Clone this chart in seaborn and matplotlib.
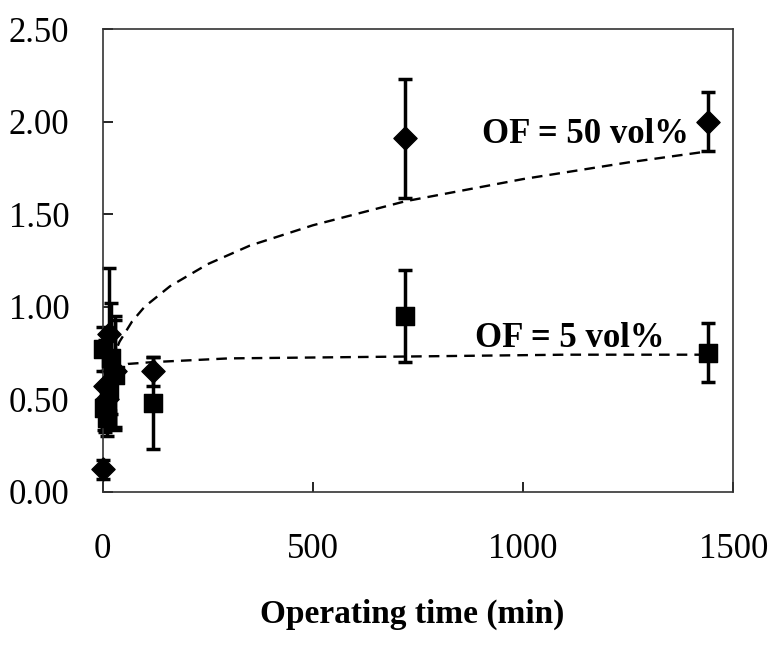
import numpy as np
import pandas as pd
import seaborn as sns
import matplotlib
matplotlib.use('Agg')
import matplotlib.pyplot as plt

sns.set_style('ticks')
plt.rcParams['font.family'] = ['Liberation Serif', 'DejaVu Serif']
plt.rcParams['text.color'] = 'black'
plt.rcParams['axes.labelcolor'] = 'black'

# OF = 50 vol% (diamonds)
t50 = [0, 5, 10, 15, 30, 120, 720, 1440]
y50 = [0.12, 0.57, 0.50, 0.85, 0.65, 0.65, 1.91, 2.00]
e50 = [0.05, 0.25, 0.15, 0.36, 0.30, 0.08, 0.32, 0.16]

# OF = 5 vol% (squares)
t5 = [0, 2, 10, 15, 20, 30, 120, 720, 1440]
y5 = [0.77, 0.45, 0.40, 0.55, 0.72, 0.63, 0.48, 0.95, 0.75]
e5 = [0.12, 0.12, 0.10, 0.20, 0.30, 0.30, 0.25, 0.25, 0.16]

# dashed trend lines
trend50_t = [20, 40, 70, 100, 160, 250, 350, 500, 720, 1000, 1250, 1440]
trend50_y = [0.70, 0.81, 0.92, 1.00, 1.11, 1.23, 1.33, 1.44, 1.57, 1.69, 1.78, 1.84]
trend5_t = [20, 60, 120, 300, 720, 1100, 1440]
trend5_y = [0.66, 0.69, 0.70, 0.72, 0.73, 0.74, 0.74]

fig, ax = plt.subplots(figsize=(7.72, 6.51), dpi=100)
fig.subplots_adjust(left=0.133, right=0.95, top=0.955, bottom=0.245)

sns.lineplot(x=trend50_t, y=trend50_y, ax=ax, color='black', lw=1.7,
             linestyle=(0, (4.5, 3)))
sns.lineplot(x=trend5_t, y=trend5_y, ax=ax, color='black', lw=1.7,
             linestyle=(0, (4.5, 3)))

ax.errorbar(t50, y50, yerr=e50, fmt='none', ecolor='black', elinewidth=2.5,
            capsize=5, capthick=2.5, clip_on=False)
ax.errorbar(t5, y5, yerr=e5, fmt='none', ecolor='black', elinewidth=2.5,
            capsize=5, capthick=2.5, clip_on=False)

sns.scatterplot(x=t50, y=y50, ax=ax, marker='D', s=140, color='black',
                edgecolor='black', clip_on=False, zorder=5)
sns.scatterplot(x=t5, y=y5, ax=ax, marker='s', s=170, color='black',
                edgecolor='black', clip_on=False, zorder=5)

ax.text(1395, 1.93, 'OF = 50 vol%', ha='right', va='center', fontsize=25,
        fontweight='bold')
ax.text(1335, 0.83, 'OF = 5 vol%', ha='right', va='center', fontsize=25,
        fontweight='bold')

ax.set_xlim(0, 1500)
ax.set_ylim(0, 2.5)
ax.set_xticks([0, 500, 1000, 1500])
ax.set_yticks([0, 0.5, 1.0, 1.5, 2.0, 2.5])
ax.set_yticklabels(['%.2f' % v for v in [0, 0.5, 1.0, 1.5, 2.0, 2.5]])
ax.tick_params(axis='both', direction='in', length=7, width=1.2,
               labelsize=25, colors='black')
ax.tick_params(axis='x', pad=30)
ax.tick_params(axis='y', pad=24)
for s in ax.spines.values():
    s.set_visible(True)
    s.set_linewidth(1.2)
    s.set_color('#333333')

ax.set_xlabel('Operating time (min)', fontsize=24, fontweight='bold')
ax.xaxis.set_label_coords(0.49, -0.232)
ax.set_ylabel('')

fig.savefig('out.png', dpi=100)
